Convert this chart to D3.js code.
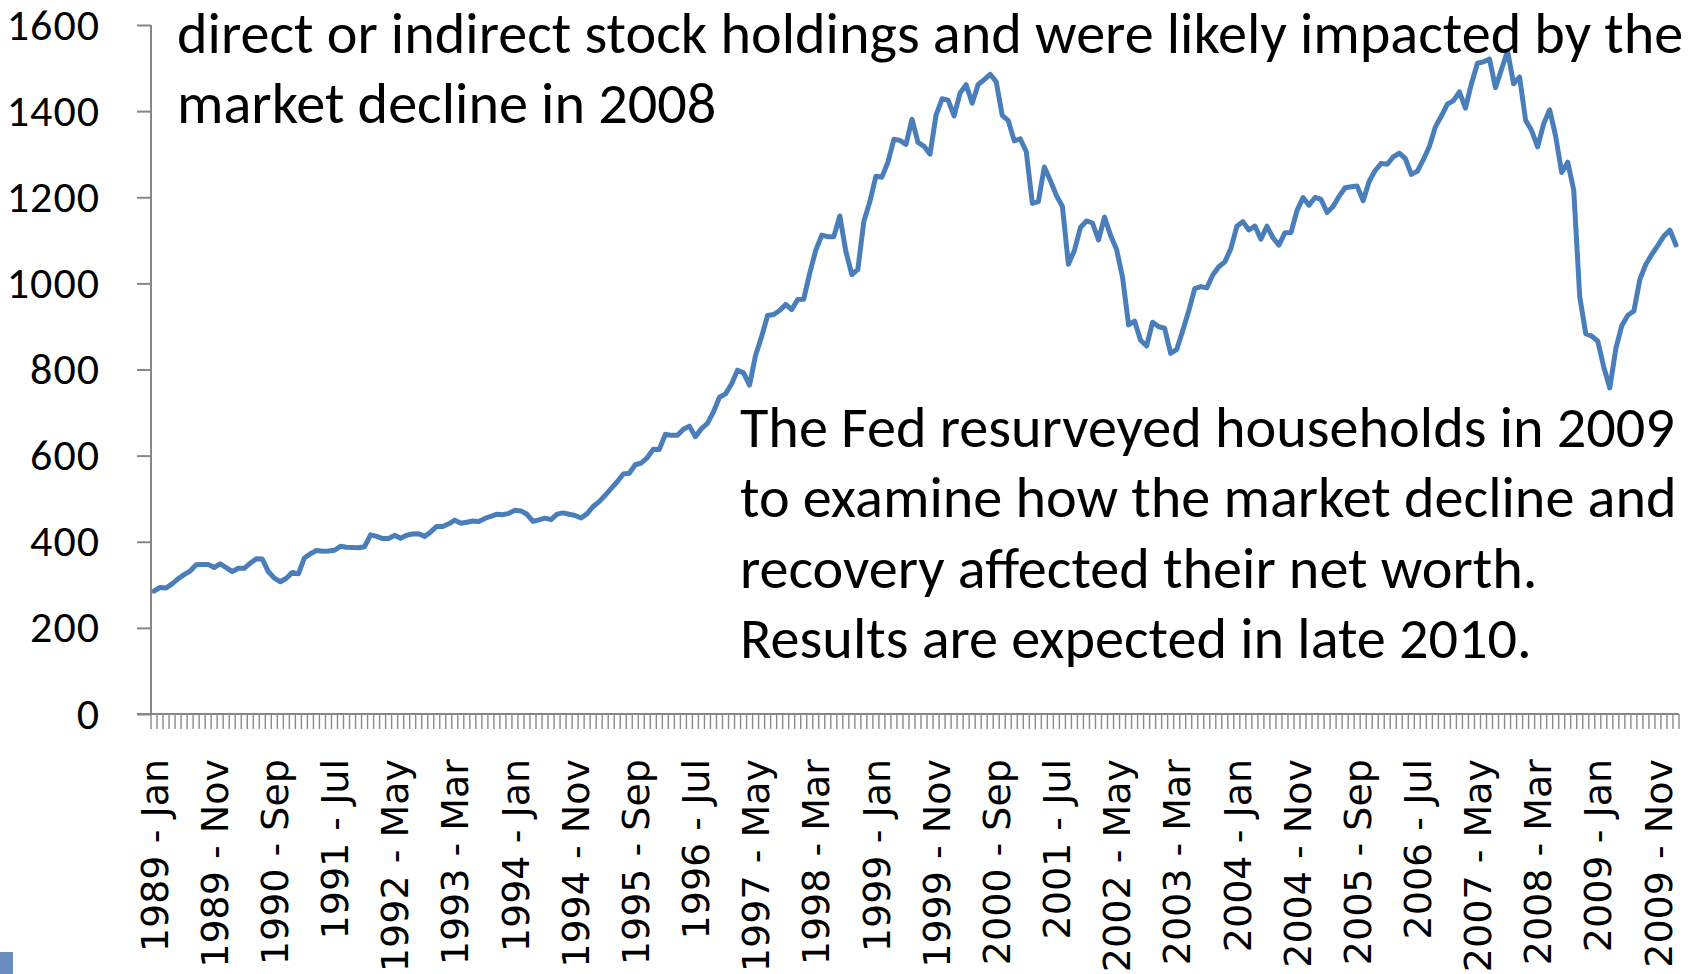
<!DOCTYPE html>
<html lang="en">
<head>
    <meta charset="utf-8" />
    <script src="https://d3js.org/d3.v7.min.js"></script>
    <style>
        body { margin: 0; background: #fff; }
        svg { display: block; }
    </style>
</head>
<body>
<div id="chart"></div>
<script>
    // --- data : S&P 500, monthly level, Jan 1989 -> Feb 2010 ---
    var monthNames = ["Jan","Feb","Mar","Apr","May","Jun","Jul","Aug","Sep","Oct","Nov","Dec"];
    var firstYear = 1989;
    var nMonths = 254;

    var values = [
        285.4, 294.0, 292.7, 302.3, 313.9, 323.7, 331.9, 346.6, 347.3, 347.4, 340.2, 348.6,   // 1989
        340.0, 330.5, 338.5, 338.2, 350.3, 360.4, 360.0, 330.8, 315.4, 307.1, 315.3, 328.8,   // 1990
        325.5, 362.3, 372.3, 379.7, 378.0, 378.3, 380.2, 389.4, 387.2, 386.9, 385.9, 388.5,   // 1991
        416.1, 412.6, 407.4, 407.4, 414.8, 408.3, 415.1, 417.9, 418.5, 412.5, 422.8, 435.6,   // 1992
        435.2, 441.7, 450.2, 443.1, 445.3, 448.1, 447.3, 454.1, 459.2, 463.9, 462.9, 466.0,   // 1993
        473.0, 471.6, 463.8, 447.2, 450.9, 454.8, 451.4, 464.2, 467.0, 463.8, 461.0, 455.2,   // 1994
        465.3, 481.9, 493.2, 507.9, 523.8, 539.4, 557.4, 559.1, 578.8, 582.9, 595.5, 614.6,   // 1995
        614.4, 649.5, 647.1, 647.2, 661.2, 668.5, 644.1, 662.7, 674.9, 701.5, 735.7, 743.3,   // 1996
        766.2, 798.4, 792.2, 763.9, 833.1, 876.3, 925.3, 927.7, 937.0, 951.2, 938.9, 962.4,   // 1997
        963.4, 1023.7, 1076.8, 1112.2, 1108.4, 1108.4, 1156.6, 1074.6, 1020.6, 1032.5, 1144.4, 1190.1, // 1998
        1248.8, 1246.6, 1281.7, 1334.8, 1332.1, 1322.6, 1381.0, 1327.5, 1318.2, 1300.0, 1391.0, 1428.7, // 1999
        1425.6, 1388.9, 1442.2, 1461.4, 1418.5, 1462.0, 1473.0, 1485.5, 1468.1, 1390.1, 1378.0, 1330.9, // 2000
        1335.6, 1305.8, 1185.9, 1189.8, 1270.4, 1238.7, 1204.5, 1178.5, 1044.6, 1076.6, 1129.7, 1144.9, // 2001
        1140.2, 1100.7, 1153.8, 1112.0, 1079.3, 1014.1, 903.6, 912.6, 867.8, 854.6, 909.9, 899.2,        // 2002
        895.8, 837.6, 846.6, 890.0, 936.0, 988.0, 992.5, 989.5, 1019.4, 1038.7, 1049.9, 1080.6,          // 2003
        1132.5, 1143.4, 1124.0, 1133.1, 1102.8, 1132.8, 1105.9, 1088.9, 1117.7, 1118.1, 1168.9, 1199.2, // 2004
        1181.4, 1199.6, 1194.9, 1164.4, 1178.3, 1202.3, 1222.2, 1224.3, 1225.9, 1192.0, 1237.4, 1262.1, // 2005
        1278.7, 1276.7, 1293.7, 1302.2, 1290.0, 1253.1, 1260.2, 1287.2, 1317.8, 1363.4, 1388.6, 1416.4, // 2006
        1424.2, 1444.8, 1407.0, 1463.7, 1511.1, 1514.5, 1520.7, 1454.6, 1497.1, 1539.7, 1463.4, 1479.2, // 2007
        1378.8, 1354.9, 1316.9, 1370.5, 1403.2, 1341.3, 1257.3, 1281.5, 1217.0, 968.8, 883.0, 877.6,    // 2008
        865.6, 805.2, 757.1, 848.2, 902.4, 926.1, 935.8, 1009.7, 1044.6, 1067.7, 1088.1, 1110.4,        // 2009
        1123.6, 1089.2                                                                                  // 2010
    ];

    var yTicks = [0, 200, 400, 600, 800, 1000, 1200, 1400, 1600];
    var labelEvery = 10;

    var noteTop = [
        "direct or indirect stock holdings and were likely impacted by the",
        "market decline in 2008"
    ];
    var noteBottom = [
        "The Fed resurveyed households in 2009",
        "to examine how the market decline and",
        "recovery affected their net worth.",
        "Results are expected in late 2010."
    ];

    // categories "1989 - Jan" ...
    var categories = [];
    for (var i = 0; i < nMonths; i++) {
        categories.push((firstYear + Math.floor(i / 12)) + " - " + monthNames[i % 12]);
    }

    /********************************
     * -- mise en place du svg ------
     *******************************/
    var width = 1689, height = 974;
    var plot = {left: 151, right: 1679, top: 25, bottom: 714};
    var calibri = "Carlito, Calibri, Lato, sans-serif";

    var svg = d3.select("#chart").append("svg")
        .attr("width", width)
        .attr("height", height);

    var x = d3.scaleBand().domain(categories).range([plot.left, plot.right]);
    var y = d3.scaleLinear().domain([0, 1600]).range([plot.bottom, plot.top]);

    // axe Y
    var yAxis = svg.append("g")
        .attr("transform", "translate(" + plot.left + ",0)")
        .call(d3.axisLeft(y).tickValues(yTicks).tickFormat(d3.format("d"))
            .tickSize(14).tickSizeOuter(0).tickPadding(37));
    yAxis.select(".domain").remove();
    yAxis.selectAll(".tick line").attr("stroke", "#868686").attr("stroke-width", 2);
    yAxis.selectAll(".tick text")
        .attr("fill", "#000")
        .style("font-family", calibri)
        .style("font-size", "44px")
        .style("letter-spacing", "1px");

    svg.append("line")
        .attr("x1", plot.left).attr("x2", plot.left)
        .attr("y1", plot.top).attr("y2", plot.bottom)
        .attr("stroke", "#868686").attr("stroke-width", 2);

    // axe X : ticks entre les categories
    var bounds = categories.map(function (c) { return x(c); }).concat([plot.right]);
    svg.append("g").selectAll("line")
        .data(bounds)
        .enter()
        .append("line")
        .attr("x1", function (d) { return d; })
        .attr("x2", function (d) { return d; })
        .attr("y1", plot.bottom)
        .attr("y2", plot.bottom + 15)
        .attr("stroke", "#8a8a8a")
        .attr("stroke-width", 1.4);

    svg.append("line")
        .attr("x1", plot.left - 14).attr("x2", plot.right)
        .attr("y1", plot.bottom).attr("y2", plot.bottom)
        .attr("stroke", "#868686").attr("stroke-width", 2);

    // labels tous les 10 mois
    svg.append("g").selectAll("text")
        .data(categories.filter(function (d, i) { return i % labelEvery === 0; }))
        .enter()
        .append("text")
        .attr("transform", function (d) {
            return "translate(" + (x(d) + x.bandwidth() / 2) + ",759) rotate(-90)";
        })
        .attr("dy", "0.36em")
        .attr("text-anchor", "end")
        .style("font-family", "'DejaVu Sans', sans-serif")
        .style("font-size", "38px")
        .text(function (d) { return d; });

    // la courbe
    var line = d3.line()
        .x(function (d, i) { return x(categories[i]) + x.bandwidth() / 2; })
        .y(function (d) { return y(d); });

    svg.append("path")
        .datum(values)
        .attr("d", line)
        .attr("fill", "none")
        .attr("stroke", "#4a7ebb")
        .attr("stroke-width", 5)
        .attr("stroke-linejoin", "round")
        .attr("stroke-linecap", "round");

    /********************************
     * -- annotations ---------------
     *******************************/
    function addNote(lines, x0, y0) {
        return svg.append("g").selectAll("text")
            .data(lines)
            .enter()
            .append("text")
            .attr("x", x0)
            .attr("y", function (d, i) { return y0 + i * 70.3; })
            .style("font-family", calibri)
            .style("font-size", "52px")
            .attr("fill", "#000")
            .text(function (d) { return d; });
    }
    var n1 = addNote(noteTop, 177, 53);
    var n2 = addNote(noteBottom, 740, 447);

    // ajuster la taille pour retrouver la largeur de la ligne de reference
    var w = n2.nodes()[0].getComputedTextLength();
    var fs = 52 * 935 / w;
    n1.style("font-size", fs + "px");
    n2.style("font-size", fs + "px");

    // petit carre bleu en bas a gauche
    svg.append("rect")
        .attr("x", 0).attr("y", 952)
        .attr("width", 13).attr("height", 22)
        .attr("fill", "#6b8cbe");
</script>
</body>
</html>
